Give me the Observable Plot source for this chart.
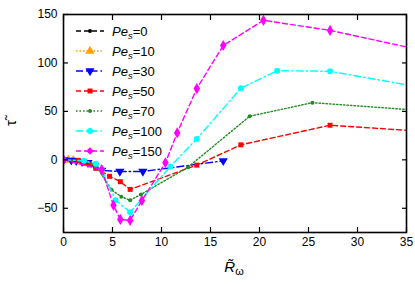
<!DOCTYPE html>
<html>
<head>
<meta charset="utf-8">
<script src="https://cdn.jsdelivr.net/npm/d3@7"></script>
<script src="https://cdn.jsdelivr.net/npm/@observablehq/plot@0.6"></script>
<style>
  html, body { margin: 0; padding: 0; background: #fff; }
  #wrap { position: relative; width: 415px; height: 284px; font-family: "Liberation Sans", Arial, sans-serif; }
  #legend { position: absolute; left: 74px; top: 21px; font-size: 13px; color: #000; }
  .row { display: flex; align-items: center; height: 20px; }
  .row svg { margin-right: 6px; }
  .row sub { font-size: 9.5px; vertical-align: -3px; line-height: 0; }
</style>
</head>
<body>
<div id="wrap"><div id="legend"></div></div>
<script>
// ---- data ----
const seriesNames = ["0", "10", "30", "50", "70", "100", "150"];
const pe0x = [0, 0.4, 0.8];
const pe0y = [0, 0, 0];
const pe10x = [0, 0.5, 1.0];
const pe10y = [0, 0, -0.5];
const pe30x = [0, 0.8, 1.3, 1.9, 2.5, 3.2, 3.9, 5.75, 8.1, 16.3];
const pe30y = [0, -0.5, -1, -2, -3, -6, -11, -12, -12, -1];
const pe50x = [0, 1.5, 2.1, 2.7, 3.3, 4.7, 5.8, 6.8, 13.6, 18.1, 27.2, 35];
const pe50y = [0, -0.5, -3.5, -5, -8.7, -17, -22.6, -30.5, -5.5, 15.5, 35.7, 30.5];
const pe70x = [0, 2.1, 3.3, 4.9, 5.9, 6.8, 7.9, 12.7, 19.0, 25.4, 35];
const pe70y = [0, -1, -6, -31, -38, -41.7, -35.7, -7.6, 45, 59, 52];
const pe100x = [0, 2.1, 3.3, 3.9, 5.3, 6.8, 10.9, 13.6, 18.1, 21.8, 27.2, 35];
const pe100y = [0, -1, -4, -10, -41.7, -54, -7, 21.6, 74, 92, 91.4, 77.4];
const pe150x = [0, 3.9, 5.1, 5.8, 6.8, 8.0, 10.4, 11.6, 13.6, 16.3, 20.4, 27.2, 35];
const pe150y = [0, -10, -47, -61.5, -62.5, -42, -3, 27.8, 73.6, 118, 144, 133.6, 116.5];
const xTicks = [0, 5, 10, 15, 20, 25, 30, 35];
const yTicks = [-50, 0, 50, 100, 150];

// ---- styles ----
const symbolTriangleDown = {
  draw(context, size) {
    const y = -Math.sqrt(size / (3 * Math.sqrt(3)));
    const s3 = Math.sqrt(3);
    context.moveTo(0, -y * 2);
    context.lineTo(-s3 * y, y);
    context.lineTo(s3 * y, y);
    context.closePath();
  }
};
const styles = [
  {color: "#000000", dash: "5,3", symbol: "circle", r: 2},
  {color: "#ffa000", dash: "1.5,2", symbol: "triangle", r: 3.4},
  {color: "#0000ff", dash: "7,3,1.5,3", symbol: symbolTriangleDown, r: 3.4},
  {color: "#ff0000", dash: "5,3", symbol: "square", r: 2.8},
  {color: "#228b22", dash: "1.5,2", symbol: "circle", r: 2},
  {color: "#00ffff", dash: "7,3,1.5,3", symbol: "circle", r: 3},
  {color: "#ff00ff", dash: "5,3", symbol: "diamond", r: 3.4}
];
const xs = [pe0x, pe10x, pe30x, pe50x, pe70x, pe100x, pe150x];
const ys = [pe0y, pe10y, pe30y, pe50y, pe70y, pe100y, pe150y];
const series = seriesNames.map((name, i) => xs[i].map((x, j) => ({x, y: ys[i][j], name})));

const marks = [];
series.forEach((data, i) => {
  const st = styles[i];
  marks.push(Plot.line(data, {x: "x", y: "y", stroke: st.color, strokeWidth: 1.4, strokeDasharray: st.dash, clip: true}));
  marks.push(Plot.dot(data.filter(d => d.x < 35), {x: "x", y: "y", fill: st.color, stroke: "none", symbol: st.symbol, r: st.r, clip: true}));
});

const chart = Plot.plot({
  width: 415,
  height: 284,
  marginLeft: 63,
  marginRight: 9,
  marginTop: 14,
  marginBottom: 52,
  style: {fontFamily: "'Liberation Sans', Arial, sans-serif", fontSize: "12px", color: "#000", background: "#fff"},
  x: {domain: [0, 35]},
  y: {domain: [-75, 150]},
  marks: [
    ...marks,
    Plot.axisX({ticks: xTicks, tickSize: 0, tickPadding: 5, label: null, tickFormat: d => String(d)}),
    Plot.axisY({ticks: yTicks, tickSize: 0, tickPadding: 6, label: null}),
    Plot.axisX({anchor: "bottom", ticks: xTicks, tickSize: 5, dy: -5, tickFormat: () => "", label: null, strokeWidth: 1.2}),
    Plot.axisX({anchor: "top", ticks: xTicks, tickSize: 5, dy: 5, tickFormat: () => "", label: null, strokeWidth: 1.2}),
    Plot.axisY({anchor: "left", ticks: yTicks, tickSize: 5, dx: 5, tickFormat: () => "", label: null, strokeWidth: 1.2}),
    Plot.axisY({anchor: "right", ticks: yTicks, tickSize: 5, dx: -5, tickFormat: () => "", label: null, strokeWidth: 1.2}),
    Plot.frame({stroke: "#000", strokeWidth: 1.6})
  ]
});

const svg = d3.select(chart);
// x label
const xl = svg.append("text")
  .attr("x", 234).attr("y", 272)
  .attr("text-anchor", "middle")
  .attr("font-size", 15)
  .attr("font-family", "'Liberation Sans', Arial, sans-serif")
  .attr("fill", "#000");
xl.append("tspan").attr("font-style", "italic").text("R\u0303");
xl.append("tspan").attr("font-size", 11).attr("dy", 3).text("\u03c9");
// y label
svg.append("text")
  .attr("transform", "translate(16,123) rotate(-90)")
  .attr("text-anchor", "middle")
  .attr("font-size", 15)
  .attr("font-family", "'Liberation Sans', Arial, sans-serif")
  .attr("fill", "#000")
  .text("\u03c4\u0303");

document.getElementById("wrap").prepend(chart);
chart.style.position = "absolute";
chart.style.left = "0";
chart.style.top = "0";

// legend
const legend = d3.select("#legend");
const symMap = {circle: d3.symbolCircle, triangle: d3.symbolTriangle, square: d3.symbolSquare, diamond: d3.symbolDiamond2};
seriesNames.forEach((name, i) => {
  const st = styles[i];
  const row = legend.append("div").attr("class", "row");
  const s = row.append("svg").attr("width", 32).attr("height", 20);
  s.append("line").attr("x1", 2).attr("x2", 30).attr("y1", 10).attr("y2", 10)
    .attr("stroke", st.color).attr("stroke-width", 1.4).attr("stroke-dasharray", st.dash);
  const type = typeof st.symbol === "string" ? symMap[st.symbol] : st.symbol;
  const sym = d3.symbol(type, Math.PI * st.r * st.r);
  s.append("path").attr("transform", "translate(16,10)").attr("d", sym()).attr("fill", st.color);
  row.append("span").html(`<i>Pe<sub>s</sub></i>=${name}`);
});
</script>
</body>
</html>
